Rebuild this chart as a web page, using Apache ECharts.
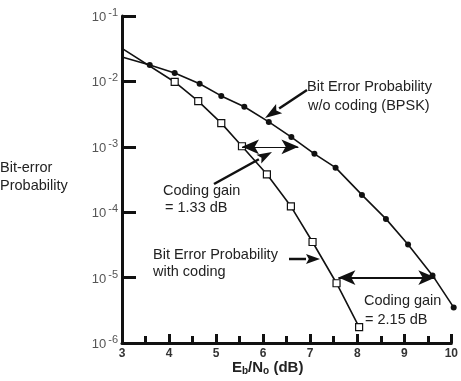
<!DOCTYPE html>
<html>
<head>
<meta charset="utf-8">
<script src="https://cdn.jsdelivr.net/npm/echarts@6/dist/echarts.min.js"></script>
<style>
html, body { margin: 0; padding: 0; background: #fff; }
#main { width: 461px; height: 381px; }
</style>
</head>
<body>
<div id="main"></div>
<script>
// Eb/N0 (dB) and bit error probability
var uncodedX = [3, 3.59, 4.12, 4.65, 5.11, 5.6, 6.12, 6.6, 7.09, 7.54, 8.1, 8.61, 9.08, 9.6, 10.05];
var uncodedY = [0.0236, 0.0178, 0.0134, 0.0092, 0.0060, 0.0041, 0.0024, 0.00141, 0.00078, 0.00048,
    0.000184, 0.000079, 0.000032, 0.0000108, 0.0000035];
var codedX = [3, 4.12, 4.62, 5.11, 5.55, 6.08, 6.59, 7.05, 7.56, 8.04];
var codedY = [0.032, 0.0098, 0.0050, 0.0023, 0.00102, 0.00038, 0.000123, 0.000035, 0.0000082, 0.00000175];
// coding gain arrows: [x from, x to, level]
var gainUpper = [5.55, 6.75, 0.001];
var gainLower = [7.6, 9.66, 0.00001];

function pairs(xs, ys) {
    return xs.map(function (x, i) {
        var p = {value: [x, ys[i]]};
        if (i === 0) p.symbol = 'none';   // curve starts at the axis, no marker
        return p;
    });
}

// straight arrow with a filled head at (x2, y2)
function arrow(x1, y1, x2, y2, len, wid, lw) {
    var dx = x2 - x1, dy = y2 - y1;
    var d = Math.sqrt(dx * dx + dy * dy);
    var ux = dx / d, uy = dy / d;
    var bx = x2 - ux * len, by = y2 - uy * len;
    return {
        type: 'group',
        children: [
            {type: 'line', shape: {x1: x1, y1: y1, x2: bx, y2: by}, style: {stroke: '#111', lineWidth: lw}},
            {type: 'polygon', shape: {points: [[x2, y2], [bx - uy * wid / 2, by + ux * wid / 2],
                [x2 - ux * len * 0.8, y2 - uy * len * 0.8], [bx + uy * wid / 2, by - ux * wid / 2]]},
                style: {fill: '#111'}}
        ]
    };
}

function txt(x, y, s) {
    return {
        type: 'text', x: x, y: y,
        style: {text: s, font: '14.5px "Liberation Sans"', fill: '#222', verticalAlign: 'middle'}
    };
}

var myChart = echarts.init(document.getElementById('main'));
myChart.setOption({
    animation: false,
    grid: {left: 122, right: 7, top: 16, bottom: 38},
    xAxis: {
        type: 'value',
        min: 3,
        max: 10,
        interval: 1,
        axisLine: {lineStyle: {color: '#111', width: 3}},
        axisTick: {inside: true, length: 9, lineStyle: {color: '#111', width: 3}},
        minorTick: {show: true, splitNumber: 2, length: 7, lineStyle: {color: '#111', width: 3}},
        splitLine: {show: false},
        axisLabel: {color: '#333', fontSize: 12, fontWeight: 'bold', margin: 5}
    },
    yAxis: {
        type: 'log',
        logBase: 10,
        min: 1e-6,
        max: 0.1,
        axisLine: {lineStyle: {color: '#111', width: 3}},
        axisTick: {inside: true, length: 14, lineStyle: {color: '#111', width: 3}},
        splitLine: {show: false},
        axisLabel: {
            margin: 4,
            formatter: function (v) {
                return '{b|10}{s|' + Math.round(Math.log10(v)) + '}';
            },
            rich: {
                b: {fontSize: 13, color: '#555', padding: [3, 2, 0, 0]},
                s: {fontSize: 11, color: '#555', padding: [0, 0, 6, 0]}
            }
        }
    },
    series: [
        {
            name: 'uncoded',
            type: 'line',
            clip: false,
            data: pairs(uncodedX, uncodedY),
            symbol: 'circle',
            symbolSize: 6,
            itemStyle: {color: '#111'},
            lineStyle: {color: '#111', width: 1.6}
        },
        {
            name: 'coded',
            type: 'line',
            clip: false,
            data: pairs(codedX, codedY),
            symbol: 'rect',
            symbolSize: 7,
            itemStyle: {color: '#fff', borderColor: '#111', borderWidth: 1.2},
            lineStyle: {color: '#111', width: 1.6},
            markLine: {
                silent: true,
                symbol: ['arrow', 'arrow'],
                symbolSize: [11, 17],
                label: {show: false},
                lineStyle: {type: 'solid', color: '#111', width: 1},
                data: [
                    [{coord: [gainUpper[0], gainUpper[2]]}, {coord: [gainUpper[1], gainUpper[2]]}],
                    [{coord: [gainLower[0], gainLower[2]], lineStyle: {width: 2}},
                        {coord: [gainLower[1], gainLower[2]]}]
                ]
            }
        }
    ],
    graphic: [
        txt(307, 87, 'Bit Error Probability'),
        txt(308, 106, 'w/o coding (BPSK)'),
        arrow(307, 90, 265, 118, 17, 11, 2.5),
        txt(163, 191, 'Coding gain'),
        txt(165, 208, '= 1.33 dB'),
        arrow(214, 184, 272, 152, 15, 10, 2.5),
        txt(153, 255, 'Bit Error Probability'),
        txt(153, 272, 'with coding'),
        arrow(289, 259, 320, 259, 14, 10, 2.5),
        txt(364, 301, 'Coding gain'),
        txt(365, 320, '= 2.15 dB'),
        txt(0, 168, 'Bit-error'),
        txt(0, 186, 'Probability'),
        {
            type: 'text', x: 232, y: 368,
            style: {
                text: '{m|E}{u|b}{m|/N}{u|o}{m| (dB)}',
                verticalAlign: 'middle',
                rich: {
                    m: {font: 'bold 15px "Liberation Sans"', fill: '#222'},
                    u: {font: 'bold 10px "Liberation Sans"', fill: '#222', padding: [6, 0, 0, 0]}
                }
            }
        }
    ]
});
</script>
</body>
</html>
